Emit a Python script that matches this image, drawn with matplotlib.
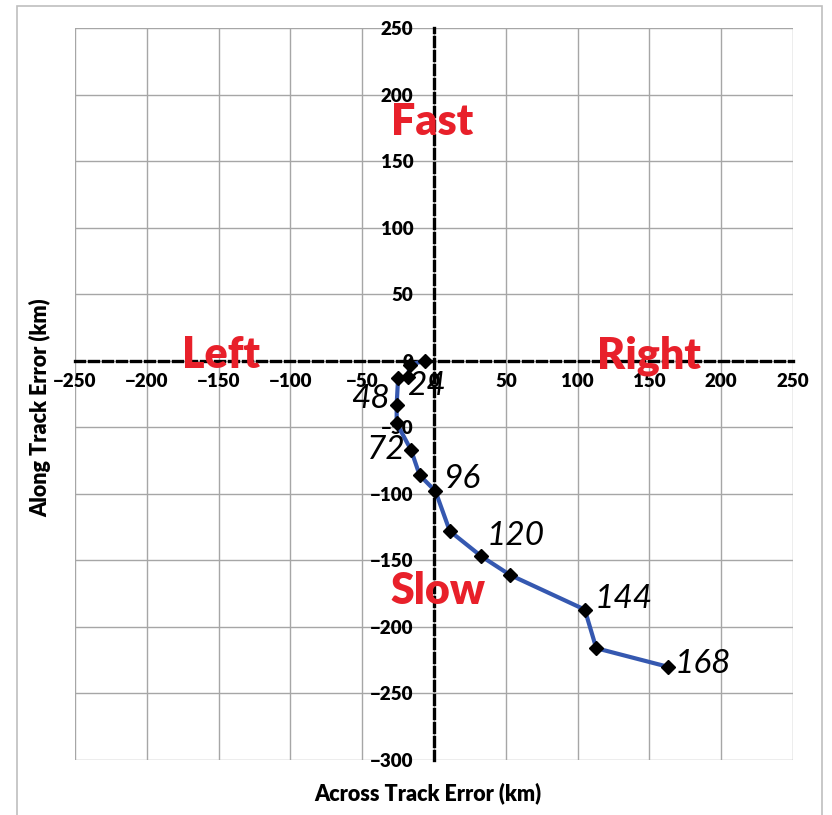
import matplotlib
matplotlib.use("Agg")
import matplotlib.pyplot as plt
from matplotlib.patches import Rectangle

# Data (km)
hours = [0, 12, 24, 36, 48, 60, 72, 84, 96, 108, 120, 132, 144, 156, 168]
across = [-6, -17, -18, -25, -26, -26, -16, -10, 1, 11, 33, 53, 105, 113, 163]
along = [0, -3, -12, -13, -33, -47, -67, -86, -98, -128, -147, -161, -187, -216, -230]

label_hours = [24, 48, 72, 96, 120, 144, 168]
label_x = [-5, -44, -33, 20, 57, 132, 187]
label_y = [-19, -29, -67, -89, -132, -179, -228]

quad_text = ["Fast", "Slow", "Left", "Right"]
quad_x = [-1, 3, -148, 150]
quad_y = [179, -173, 4, 4]

x_ticks = list(range(-250, 251, 50))
y_ticks = list(range(-300, 251, 50))

plt.rcParams['font.family'] = ['Lato', 'DejaVu Sans']

fig = plt.figure(figsize=(8.32, 8.15), dpi=100)
ax = fig.add_axes([75/832, 1-760/815, (793-75)/832, (760-28)/815])

ax.set_xlim(-250, 250)
ax.set_ylim(-300, 250)
ax.set_xticks(x_ticks)
ax.set_yticks(y_ticks)
ax.grid(True, color='#a6a6a6', linewidth=1.0)
ax.set_axisbelow(True)

for s in ['top', 'right']:
    ax.spines[s].set_visible(False)
ax.spines['left'].set_position(('data', 0))
ax.spines['bottom'].set_position(('data', 0))
for s in ['left', 'bottom']:
    ax.spines[s].set_linestyle((0, (2.7, 1.5)))
    ax.spines[s].set_linewidth(2.4)
    ax.spines[s].set_color('black')
    ax.spines[s].set_zorder(2.5)

ax.tick_params(axis='both', length=0, labelsize=13.5)
ax.tick_params(axis='y', pad=15)
ax.tick_params(axis='x', pad=9)
for lab in ax.get_xticklabels() + ax.get_yticklabels():
    lab.set_fontweight('heavy')

ax.plot(across, along, color='#3558b0', linewidth=3.0, marker='D',
        markersize=7.5, markerfacecolor='black', markeredgecolor='black', zorder=4)

for h, x, y in zip(label_hours, label_x, label_y):
    ax.text(x, y, str(h), fontsize=24, style='italic', ha='center', va='center',
            color='black', zorder=5)

for t, x, y in zip(quad_text, quad_x, quad_y):
    ax.text(x, y, t, fontsize=31, fontweight='heavy', color='#e8202a',
            ha='center', va='center', zorder=3)

fig.text(40/832, 1-408/815, 'Along Track Error (km)', rotation=90, fontsize=15.5,
         fontweight='heavy', ha='center', va='center')
fig.text(428/832, 1-793/815, 'Across Track Error (km)', fontsize=15.5,
         fontweight='heavy', ha='center', va='center')

fig.patches.append(Rectangle((17/832, -0.02), (822-17)/832, 1-6/815+0.02,
                             transform=fig.transFigure, fill=False,
                             edgecolor='#bfbfbf', linewidth=1.2))

fig.savefig('out.png', dpi=100)
